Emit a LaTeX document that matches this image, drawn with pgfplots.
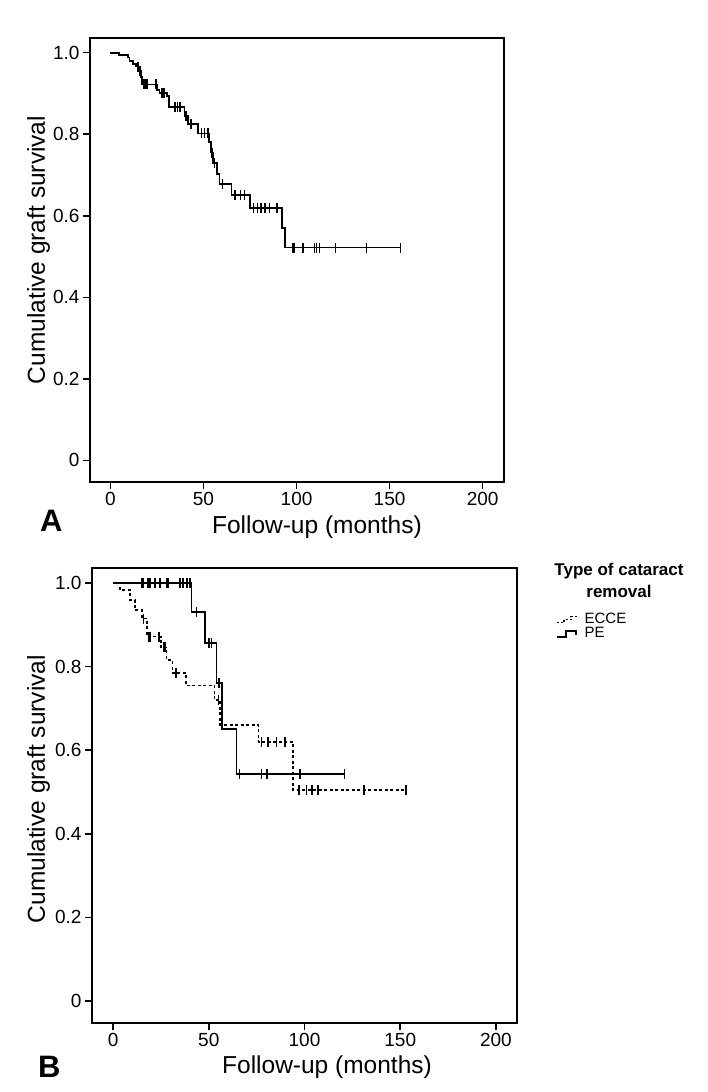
\documentclass[border=0pt]{standalone}
\usepackage{pgfplots}
\pgfplotsset{compat=1.18}
\usepackage{fontspec}
\setmainfont{Liberation Sans}
\begin{document}
\begin{tikzpicture}
\useasboundingbox (0,0) rectangle (708pt,-1092pt);
\pgfplotsset{
 kmaxis/.style={
  scale only axis,
  axis line style={line width=1.8pt},
  ymin=-0.053, ymax=1.036,
  ytick={0,0.2,0.4,0.6,0.8,1.0},
  yticklabels={0,0.2,0.4,0.6,0.8,1.0},
  xtick={0,50,100,150,200},
  xticklabels={0,50,100,150,200},
  xtick pos=bottom, ytick pos=left, tick align=outside,
  major tick length=7pt,
  every tick/.style={line width=1.6pt, black},
  tick label style={font=\fontsize{19}{19}\selectfont},
  /pgf/number format/assume math mode=true,
  label style={font=\fontsize{24.5}{24.5}\selectfont},
 },
 km/.style={const plot, line width=1.8pt, black},
 cens/.style={only marks, mark=|, mark size=5pt, mark options={line width=1.5pt, solid}, black},
}
% ---------------- Panel A ----------------
\begin{axis}[kmaxis, at={(90pt,-482pt)}, anchor=south west,
  width=414pt, height=444pt, xmin=-11, xmax=211.5,
  xlabel={Follow-up (months)}, ylabel={Cumulative graft survival},
  xlabel style={at={(axis description cs:0.548,-0.117)}, anchor=base},
  ylabel style={at={(axis description cs:-0.1087,0.5225)}, anchor=base}]
\addplot[km] coordinates {
(0,1.000) (4.5,0.995) (9.3,0.988) (10.2,0.980) (12,0.972) (13.8,0.966)
(15.6,0.956) (16.5,0.940) (16.9,0.922) (25,0.908) (26.4,0.902) (30.3,0.894)
(31.4,0.866) (39.8,0.845) (41.6,0.825) (46.9,0.802) (52.9,0.780) (54,0.755)
(55,0.730) (57.2,0.703) (58.6,0.677) (65,0.650) (75,0.620) (92,0.570)
(94,0.522) (156,0.522)};
\addplot[cens] coordinates {
(14.7,0.966) (16,0.956) (17.9,0.922) (18.8,0.922) (19.7,0.922) (24.5,0.922)
(27.3,0.902) (28.2,0.902) (29.1,0.902) (34.6,0.866) (36,0.866) (37.5,0.866)
(40.7,0.845) (43.4,0.825) (48.8,0.802) (50.5,0.802) (52.3,0.802) (54.5,0.755)
(55.9,0.730) (60.3,0.677) (67,0.65) (70,0.65) (72,0.65) (77,0.62) (79,0.62)
(81,0.62) (83,0.62) (85.5,0.62) (89.4,0.62) (98,0.522) (99,0.522)
(103.4,0.522) (109.7,0.522) (110.6,0.522) (112.4,0.522) (121,0.522)
(137.5,0.522) (156,0.522)};
\end{axis}
\node[anchor=base west, inner sep=0pt, font=\bfseries\fontsize{31}{31}\selectfont] at (40pt,-531pt) {A};
% ---------------- Panel B ----------------
\begin{axis}[kmaxis, at={(92pt,-1023pt)}, anchor=south west,
  width=425pt, height=455pt, xmin=-11, xmax=211,
  xlabel={Follow-up (months)}, ylabel={Cumulative graft survival},
  xlabel style={at={(axis description cs:0.553,-0.112)}, anchor=base},
  ylabel style={at={(axis description cs:-0.1106,0.514)}, anchor=base},
  legend style={at={(axis description cs:1.0918,0.902)}, anchor=north west,
    draw=none, fill=none, inner sep=0pt, row sep=0pt, column sep=6pt,
    nodes={inner sep=0pt, text height=10.5pt, text depth=3.5pt,
      font=\fontsize{15}{15}\selectfont}},
  legend cell align=left]
\addlegendimage{legend image code/.code={\draw[line width=1.3pt, dash pattern=on 2pt off 2pt] (0pt,-3pt) -- (7pt,-3pt) -- (7pt,0pt) -- (14pt,0pt) -- (14pt,3pt) -- (21pt,3pt);}}
\addlegendentry{ECCE}
\addlegendimage{legend image code/.code={\draw[line width=1.5pt] (0pt,-3pt) -- (9pt,-3pt) -- (9pt,3pt) -- (19pt,3pt) -- (19pt,-1pt);}}
\addlegendentry{PE}
\addplot[km, line width=1.6pt, dash pattern=on 3pt off 2.5pt, forget plot] coordinates {
(0,1.0) (3.7,0.983) (9,0.96) (11.5,0.935) (15,0.915) (17.6,0.872) (25,0.846)
(28,0.816) (31,0.785) (38,0.755) (53,0.72) (56,0.66) (76,0.62) (94,0.505)
(153,0.505)};
\addplot[cens, forget plot] coordinates {
(15.8,0.915) (18.4,0.872) (19.3,0.872) (24,0.872) (26.3,0.846) (27.2,0.846)
(33,0.785) (55,0.72) (77.6,0.62) (81,0.62) (85.5,0.62) (89.8,0.62)
(97,0.505) (101,0.505) (104,0.505) (107,0.505) (131,0.505) (153,0.505)};
\addplot[km, forget plot] coordinates {
(0,1.0) (41,0.93) (48,0.856) (54,0.76) (57,0.65) (64.5,0.543) (121,0.543)};
\addplot[cens, forget plot] coordinates {
(15,1) (15.7,1) (18.3,1) (19.3,1) (21.9,1) (24.5,1) (28,1) (28.7,1) (35,1)
(36.6,1) (38.5,1) (40.2,1) (43.7,0.93) (50,0.856) (51.5,0.856) (55.3,0.76)
(66,0.543) (77.6,0.543) (80.4,0.543) (97.6,0.543) (121,0.543)};
\end{axis}
\node[anchor=base west, inner sep=0pt, font=\bfseries\fontsize{31}{31}\selectfont] at (38pt,-1077pt) {B};
\node[anchor=base, inner sep=0pt, font=\bfseries\fontsize{17}{17}\selectfont] at (619pt,-575pt) {Type of cataract};
\node[anchor=base, inner sep=0pt, font=\bfseries\fontsize{17}{17}\selectfont] at (619pt,-597pt) {removal};
\end{tikzpicture}
\end{document}
